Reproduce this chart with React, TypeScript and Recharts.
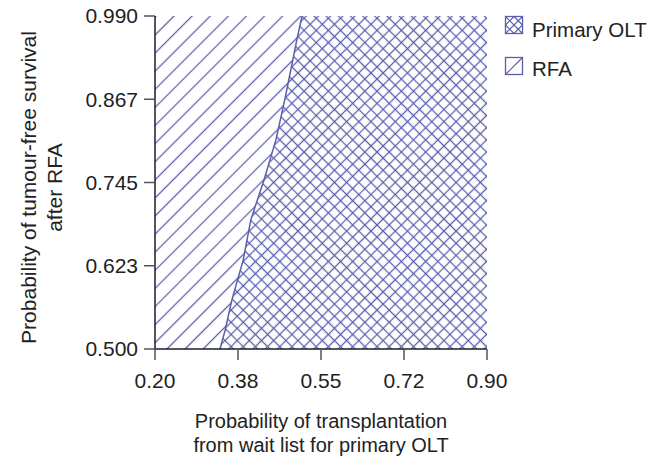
import React from 'react';
import { ComposedChart, Area, Line, XAxis, YAxis } from 'recharts';

// Survival probability after RFA (y) and threshold probability of transplantation (x)
const survivalProb = [0.5, 0.528, 0.572, 0.631, 0.69, 0.749, 0.808, 0.868, 0.955, 0.99];
const transplantThreshold = [0.337, 0.348, 0.362, 0.386, 0.402, 0.43, 0.455, 0.474, 0.499, 0.51];

const xTicks = [0.2, 0.375, 0.55, 0.725, 0.9];
const xTickLabels = ['0.20', '0.38', '0.55', '0.72', '0.90'];
const yTicks = [0.5, 0.6225, 0.745, 0.8675, 0.99];
const yTickLabels = ['0.500', '0.623', '0.745', '0.867', '0.990'];

const seriesNames = ['Primary OLT', 'RFA'];

const X_MIN = 0.2;
const X_MAX = 0.9;
const Y_MIN = 0.5;
const Y_MAX = 0.99;

const data = survivalProb.map((y, i) => ({
  y,
  boundary: transplantThreshold[i],
  rfa: [X_MIN, transplantThreshold[i]],
  olt: [transplantThreshold[i], X_MAX],
}));

const HATCH = '#5a5eac';
const AXIS = '#1c1c2a';
const FONT = '"Liberation Sans", Arial, Helvetica, sans-serif';

const XTitle = (props: any) => {
  const vb = props.viewBox || {};
  const cx = vb.x + vb.width / 2;
  return (
    <g>
      <text x={cx} y={vb.y + 79} textAnchor="middle" fontSize={20} fill="#222" fontFamily={FONT}>
        Probability of transplantation
      </text>
      <text x={cx} y={vb.y + 103} textAnchor="middle" fontSize={20} fill="#222" fontFamily={FONT}>
        from wait list for primary OLT
      </text>
    </g>
  );
};

const YTitle = (props: any) => {
  const vb = props.viewBox || {};
  const cy = vb.y + vb.height / 2 + 5;
  return (
    <g>
      <text x={36} y={cy} transform={`rotate(-90, 36, ${cy})`} textAnchor="middle" fontSize={21} fill="#222" fontFamily={FONT}>
        Probability of tumour-free survival
      </text>
      <text x={62} y={cy} transform={`rotate(-90, 62, ${cy})`} textAnchor="middle" fontSize={21} fill="#222" fontFamily={FONT}>
        after RFA
      </text>
    </g>
  );
};

const LegendBox = () => (
  <svg width={166} height={90} style={{ position: 'absolute', left: 497, top: 0, display: 'block' }}>
    <g>
      <rect x={8.5} y={16.5} width={17} height={17} fill="#fff" stroke={HATCH} strokeWidth={1.3} />
      <line x1={8.5} y1={16.5} x2={25.5} y2={33.5} stroke={HATCH} strokeWidth={1.2} />
      <line x1={25.5} y1={16.5} x2={8.5} y2={33.5} stroke={HATCH} strokeWidth={1.2} />
      <polygon points="17,16.5 25.5,25 17,33.5 8.5,25" fill="none" stroke={HATCH} strokeWidth={1.2} />
      <text x={35} y={37} fontSize={20.5} fill="#222" fontFamily={FONT}>{seriesNames[0]}</text>
    </g>
    <g>
      <rect x={8.5} y={57.5} width={17} height={17} fill="#fff" stroke={HATCH} strokeWidth={1.3} />
      <line x1={8.5} y1={74.5} x2={25.5} y2={57.5} stroke={HATCH} strokeWidth={1.2} />
      <text x={35} y={76} fontSize={20.5} fill="#222" fontFamily={FONT}>{seriesNames[1]}</text>
    </g>
  </svg>
);

export default function App() {
  const tickStyle = { fontSize: 21, fill: '#222', fontFamily: FONT };
  return (
    <div style={{ position: 'absolute', left: 0, top: 0, width: 663, height: 460, background: '#fff' }}>
      <ComposedChart
        width={663}
        height={460}
        data={data}
        layout="vertical"
        margin={{ top: 16, right: 176, left: 0, bottom: 0 }}
      >
        <defs>
          <pattern id="rfaHatch" patternUnits="userSpaceOnUse" width={12.8} height={12.8} patternTransform="rotate(45)">
            <rect width={12.8} height={12.8} fill="#fff" />
            <line x1={6.4} y1={0} x2={6.4} y2={12.8} stroke={HATCH} strokeWidth={1.25} />
          </pattern>
          <pattern id="oltHatch" patternUnits="userSpaceOnUse" width={8.6} height={8.6} patternTransform="rotate(45)">
            <rect width={8.6} height={8.6} fill="#fff" />
            <line x1={4.3} y1={0} x2={4.3} y2={8.6} stroke={HATCH} strokeWidth={1.25} />
            <line x1={0} y1={4.3} x2={8.6} y2={4.3} stroke={HATCH} strokeWidth={1.25} />
          </pattern>
        </defs>
        <XAxis
          xAxisId="b"
          type="number"
          domain={[X_MIN, X_MAX]}
          ticks={xTicks}
          tickFormatter={(v: number, i: number) => xTickLabels[i]}
          allowDataOverflow
          height={111}
          tickSize={11}
          tickMargin={13}
          axisLine={{ stroke: AXIS, strokeWidth: 1.5 }}
          tickLine={{ stroke: '#555', strokeWidth: 1.5 }}
          tick={tickStyle}
          label={{ content: XTitle }}
        />
        <XAxis
          xAxisId="t"
          orientation="top"
          type="number"
          domain={[X_MIN, X_MAX]}
          allowDataOverflow
          height={0}
          tick={false}
          tickLine={false}
          axisLine={{ stroke: AXIS, strokeWidth: 1.5 }}
        />
        <YAxis
          yAxisId="l"
          type="number"
          dataKey="y"
          reversed
          domain={[Y_MIN, Y_MAX]}
          ticks={yTicks}
          tickFormatter={(v: number, i: number) => yTickLabels[i]}
          allowDataOverflow
          width={155}
          tickSize={11}
          tickMargin={6}
          axisLine={{ stroke: AXIS, strokeWidth: 1.5 }}
          tickLine={{ stroke: '#555', strokeWidth: 1.5 }}
          tick={tickStyle}
          label={{ content: YTitle }}
        />
        <YAxis
          yAxisId="r"
          orientation="right"
          type="number"
          dataKey="y"
          reversed
          domain={[Y_MIN, Y_MAX]}
          allowDataOverflow
          width={0}
          tick={false}
          tickLine={false}
          axisLine={{ stroke: AXIS, strokeWidth: 1.5 }}
        />
        <Area
          xAxisId="b"
          yAxisId="l"
          dataKey="olt"
          name={seriesNames[0]}
          type="linear"
          fill="url(#oltHatch)"
          fillOpacity={1}
          stroke="none"
          isAnimationActive={false}
        />
        <Area
          xAxisId="b"
          yAxisId="l"
          dataKey="rfa"
          name={seriesNames[1]}
          type="linear"
          fill="url(#rfaHatch)"
          fillOpacity={1}
          stroke="none"
          isAnimationActive={false}
        />
        <Line
          xAxisId="b"
          yAxisId="l"
          dataKey="boundary"
          type="linear"
          stroke={HATCH}
          strokeWidth={1.5}
          dot={false}
          activeDot={false}
          legendType="none"
          isAnimationActive={false}
        />
      </ComposedChart>
      <LegendBox />
    </div>
  );
}
